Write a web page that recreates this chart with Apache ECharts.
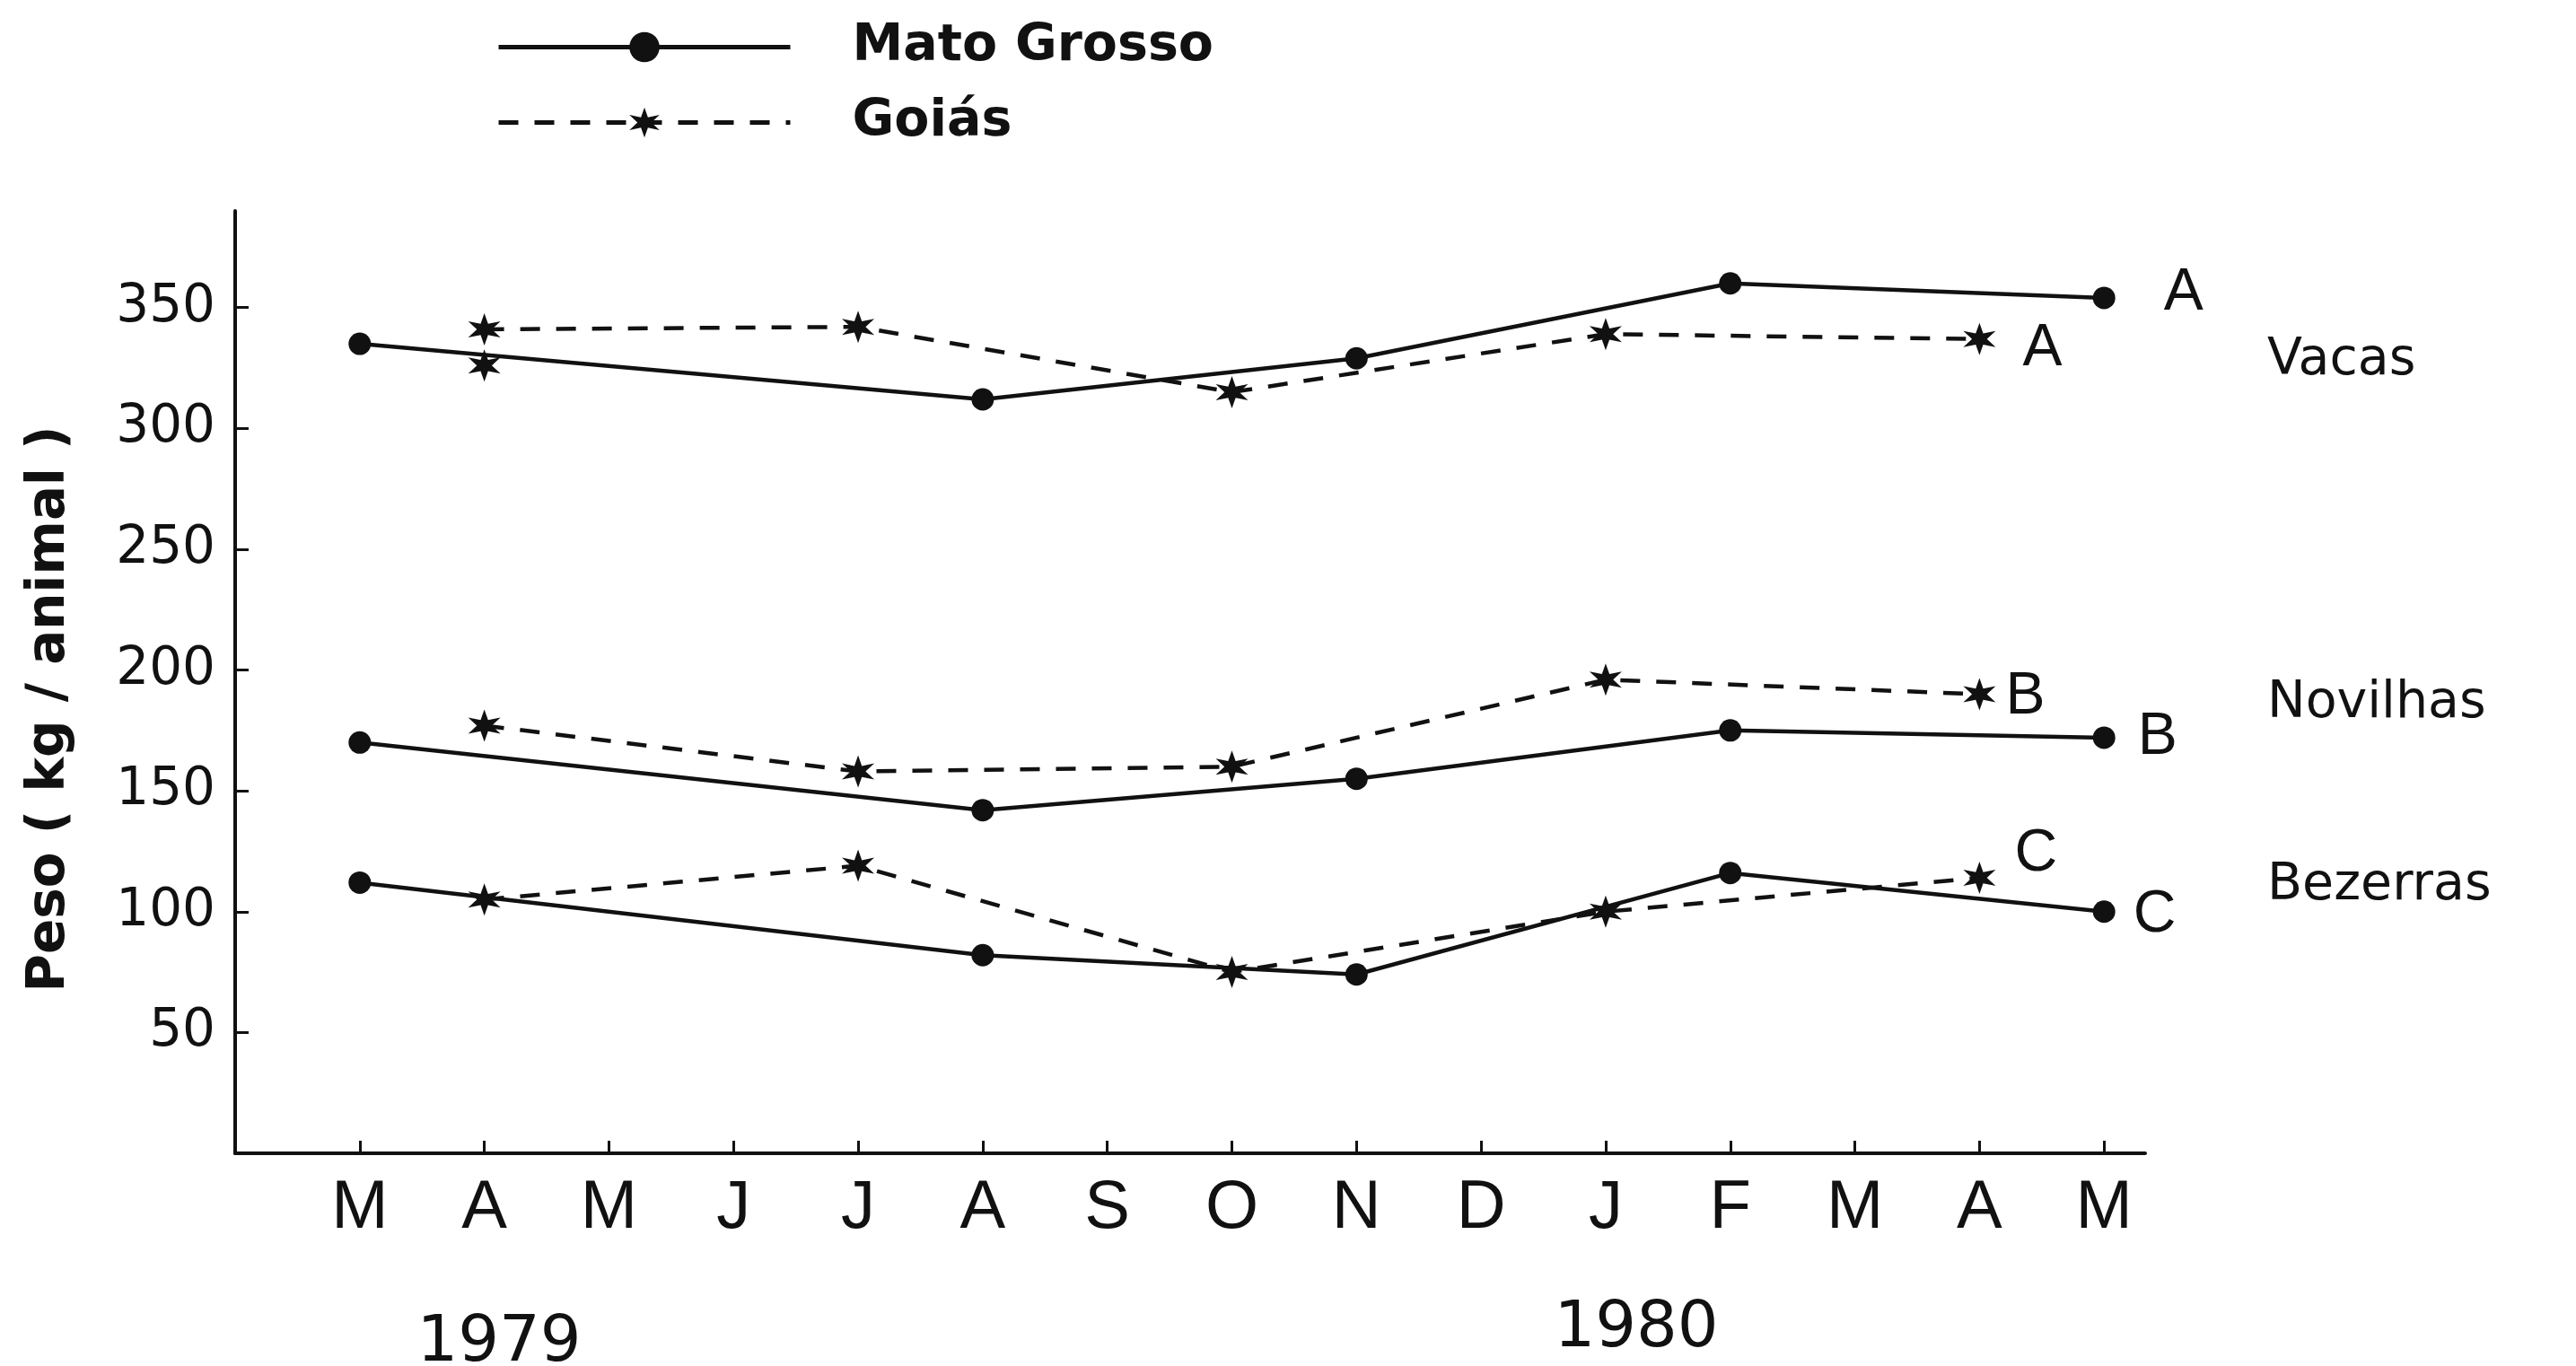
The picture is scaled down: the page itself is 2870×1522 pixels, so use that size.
<!DOCTYPE html>
<html>
<head>
<meta charset="utf-8">
<script src="https://cdn.jsdelivr.net/npm/echarts@6/dist/echarts.min.js"></script>
<style>
  html, body { margin: 0; padding: 0; background: #ffffff; }
  #chart { width: 2870px; height: 1522px; }
</style>
</head>
<body>
<div id="chart"></div>
<script>
// Month ticks from March 1979 to May 1980
const months = ['M', 'A', 'M', 'J', 'J', 'A', 'S', 'O', 'N', 'D', 'J', 'F', 'M', 'A', 'M'];
const years = ['1979', '1980'];
const yTicks = [50, 100, 150, 200, 250, 300, 350];

// Sampling months (index into months) for each state
const mtPos = [0, 5, 8, 11, 14];
const goPos = [1, 4, 7, 10, 13];

// Mean live weight, kg per animal
const mtVacas = [335, 312, 329, 360, 354];
const mtNovilhas = [170, 142, 155, 175, 172];
const mtBezerras = [112, 82, 74, 116, 100];
const goVacas = [341, 342, 315, 339, 337];
const goNovilhas = [177, 158, 160, 196, 190];
const goBezerras = [105, 119, 75, 100, 114];
// Additional Goiás mark on the cow line in April 1979
const goExtraPos = [1];
const goExtra = [326];

const groupNames = ['Vacas', 'Novilhas', 'Bezerras'];
const groupLetters = ['A', 'B', 'C'];

const INK = '#111111';
const SANS = 'DejaVu Sans, Liberation Sans, sans-serif';
const NARROW = 'Liberation Sans Narrow, Liberation Sans, Arial, sans-serif';

// Six-pointed star used for the Goiás series
function starPath() {
  const pts = [];
  for (let k = 0; k < 12; k++) {
    const a = -Math.PI / 2 + k * Math.PI / 6;
    const r = k % 2 === 0 ? 50 : 20;
    pts.push((50 + r * Math.cos(a)).toFixed(2) + ' ' + (50 + r * Math.sin(a)).toFixed(2));
  }
  return 'path://M' + pts.join(' L') + ' Z';
}
const STAR = starPath();

function pairs(pos, vals) {
  return pos.map((p, i) => [p, vals[i]]);
}

function withEndLabel(data, text, distance, offset) {
  const out = data.slice();
  const last = out.length - 1;
  out[last] = {
    value: out[last],
    label: {
      show: true,
      formatter: text,
      position: 'right',
      distance: distance,
      offset: offset,
      color: INK,
      fontSize: 66,
      fontFamily: NARROW
    }
  };
  return out;
}

function mtSeries(vals, letter, distance, offset) {
  return {
    name: 'Mato Grosso',
    type: 'line',
    data: withEndLabel(pairs(mtPos, vals), letter, distance, offset),
    symbol: 'circle',
    symbolSize: 25,
    lineStyle: { color: INK, width: 4.5, type: 'solid' },
    itemStyle: { color: INK },
    animation: false,
    z: 3
  };
}

function goSeries(vals, letter, distance, offset) {
  return {
    name: 'Goiás',
    type: 'line',
    data: withEndLabel(pairs(goPos, vals), letter, distance, offset),
    symbol: STAR,
    symbolSize: 36,
    lineStyle: { color: INK, width: 4.5, type: [22, 18] },
    itemStyle: { color: INK },
    animation: false,
    z: 3
  };
}

const chart = echarts.init(document.getElementById('chart'), null, { renderer: 'canvas' });

const option = {
  backgroundColor: '#ffffff',
  animation: false,
  grid: { left: 262, right: 480, top: 235, bottom: 237, containLabel: false },
  legend: {
    orient: 'vertical',
    left: 548,
    top: 19,
    itemWidth: 325,
    itemHeight: 42,
    itemGap: 27,
    selectedMode: false,
    data: ['Mato Grosso', 'Goiás'],
    lineStyle: { width: 5 },
    textStyle: {
      color: INK,
      fontSize: 57,
      fontWeight: 'bold',
      fontFamily: SANS,
      padding: [0, 0, 0, 64]
    }
  },
  xAxis: {
    type: 'value',
    min: -1,
    max: 14.33,
    interval: 1,
    splitLine: { show: false },
    axisLine: { show: true, onZero: false, lineStyle: { color: INK, width: 4 } },
    axisTick: {
      show: true,
      inside: true,
      length: 14,
      customValues: months.map((m, i) => i),
      lineStyle: { color: INK, width: 3 }
    },
    axisLabel: {
      show: true,
      customValues: months.map((m, i) => i),
      formatter: v => months[Math.round(v)] || '',
      margin: 24,
      color: INK,
      fontSize: 76,
      fontFamily: NARROW
    }
  },
  yAxis: {
    type: 'value',
    min: 0,
    max: 390,
    interval: 50,
    splitLine: { show: false },
    axisLine: { show: true, onZero: false, lineStyle: { color: INK, width: 4 } },
    axisTick: {
      show: true,
      inside: true,
      length: 15,
      customValues: yTicks,
      lineStyle: { color: INK, width: 3 }
    },
    axisLabel: {
      show: true,
      customValues: yTicks,
      margin: 22,
      color: INK,
      fontSize: 58,
      fontFamily: SANS
    }
  },
  series: [
    mtSeries(mtVacas, groupLetters[0], 54, [0, -5]),
    mtSeries(mtNovilhas, groupLetters[1], 25, [0, 0]),
    mtSeries(mtBezerras, groupLetters[2], 20, [0, 4]),
    goSeries(goVacas, groupLetters[0], 30, [0, 11]),
    goSeries(goNovilhas, groupLetters[1], 11, [0, 3]),
    goSeries(goBezerras, groupLetters[2], 21, [0, -26]),
    {
      name: 'Goiás',
      type: 'scatter',
      data: pairs(goExtraPos, goExtra),
      symbol: STAR,
      symbolSize: 36,
      itemStyle: { color: INK, opacity: 1 },
      animation: false,
      z: 4
    }
  ],
  graphic: [
    {
      type: 'text',
      x: 56, y: 790,
      rotation: Math.PI / 2,
      style: {
        text: 'Peso ( kg / animal )',
        fill: INK,
        font: 'bold 58px ' + SANS,
        textAlign: 'center',
        textVerticalAlign: 'middle'
      }
    },
    {
      type: 'text', x: 556, y: 1497,
      style: { text: years[0], fill: INK, font: '72px ' + SANS, textAlign: 'center', textVerticalAlign: 'middle' }
    },
    {
      type: 'text', x: 1823, y: 1481,
      style: { text: years[1], fill: INK, font: '72px ' + SANS, textAlign: 'center', textVerticalAlign: 'middle' }
    },
    {
      type: 'text', x: 2526, y: 402,
      style: { text: groupNames[0], fill: INK, font: '500 57px ' + SANS, textAlign: 'left', textVerticalAlign: 'middle' }
    },
    {
      type: 'text', x: 2526, y: 784,
      style: { text: groupNames[1], fill: INK, font: '500 57px ' + SANS, textAlign: 'left', textVerticalAlign: 'middle' }
    },
    {
      type: 'text', x: 2526, y: 987,
      style: { text: groupNames[2], fill: INK, font: '500 57px ' + SANS, textAlign: 'left', textVerticalAlign: 'middle' }
    }
  ]
};

chart.setOption(option);
</script>
</body>
</html>
